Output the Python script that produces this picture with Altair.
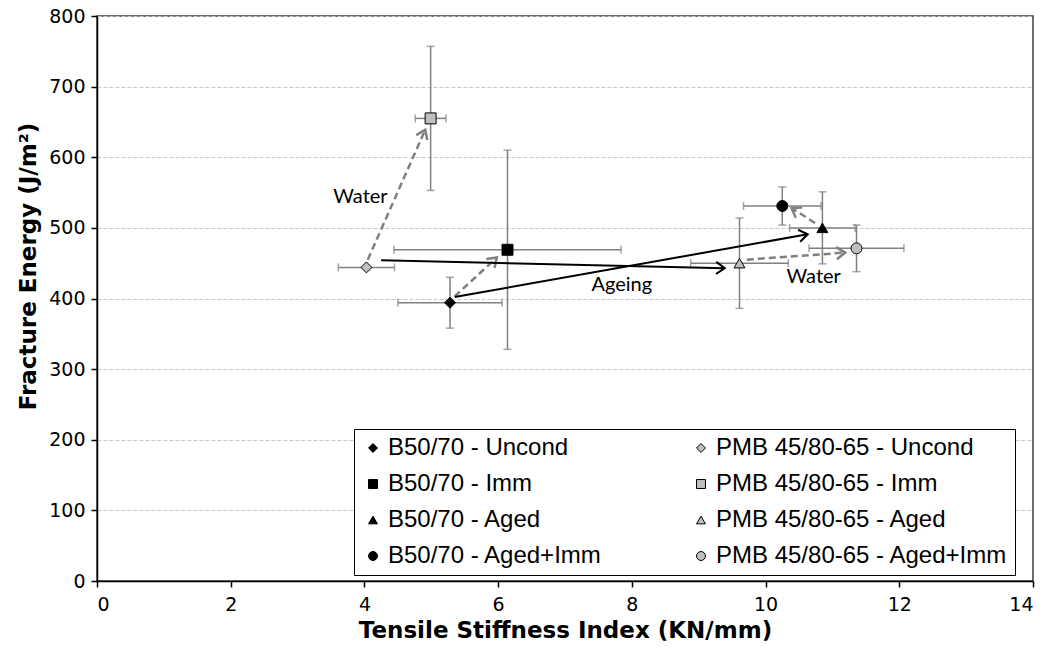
import math
import altair as alt
import pandas as pd

# ---------------- data ----------------
series_order = [
    "B50/70 - Uncond", "B50/70 - Imm", "B50/70 - Aged", "B50/70 - Aged+Imm",
    "PMB 45/80-65 - Uncond", "PMB 45/80-65 - Imm",
    "PMB 45/80-65 - Aged", "PMB 45/80-65 - Aged+Imm",
]
series_shapes = ["diamond", "square", "triangle-up", "circle"] * 2
series_fills = ["#000000"] * 4 + ["#BFBFBF"] * 4

conditions = ["Uncond", "Imm", "Aged", "Aged+Imm"]
b50_x = [5.28, 6.14, 10.85, 10.25]
b50_y = [394, 469, 500, 531]
b50_xerr = [0.78, 1.70, 0.49, 0.58]
b50_yerr = [36, 141, 51, 27]
pmb_x = [4.03, 4.99, 9.61, 11.36]
pmb_y = [444, 655, 450, 471]
pmb_xerr = [0.42, 0.23, 0.73, 0.71]
pmb_yerr = [0, 102, 64, 33]

# arrows: start -> end
arrow_kind = ["water", "water", "water", "water", "ageing", "ageing"]
arrow_x1 = [4.05, 5.35, 10.74, 9.72, 4.25, 5.35]
arrow_y1 = [455, 403, 507, 455, 454, 402]
arrow_x2 = [4.91, 5.98, 10.39, 11.19, 9.39, 10.63]
arrow_y2 = [639, 458, 528, 465, 443, 491]

label_text = ["Water", "Ageing", "Water"]
label_x = [3.94, 7.85, 10.72]
label_y = [544, 419, 430]

x_ticks = [0, 2, 4, 6, 8, 10, 12, 14]
y_ticks = [0, 100, 200, 300, 400, 500, 600, 700, 800]

# ---------------- tables ----------------
W, H = 936, 565
X_DOM, Y_DOM = [0, 14], [0, 800]

rows = []
for i, c in enumerate(conditions):
    rows.append(dict(series=f"B50/70 - {c}", x=b50_x[i], y=b50_y[i],
                     xerr=b50_xerr[i], yerr=b50_yerr[i]))
    rows.append(dict(series=f"PMB 45/80-65 - {c}", x=pmb_x[i], y=pmb_y[i],
                     xerr=pmb_xerr[i], yerr=pmb_yerr[i]))
pts = pd.DataFrame(rows)
pts["xlo"] = pts.x - pts.xerr
pts["xhi"] = pts.x + pts.xerr
pts["ylo"] = pts.y - pts.yerr
pts["yhi"] = pts.y + pts.yerr
ypts = pts[pts.yerr > 0]

arr = pd.DataFrame(dict(kind=arrow_kind, x=arrow_x1, y=arrow_y1,
                        x2=arrow_x2, y2=arrow_y2))
px_x = W / (X_DOM[1] - X_DOM[0])
px_y = H / (Y_DOM[1] - Y_DOM[0])
arr["angle"] = [
    (math.degrees(math.atan2((b - a) * px_x, (d - c) * px_y)) + 360) % 360
    for a, b, c, d in zip(arr.x, arr.x2, arr.y, arr.y2)
]
labels = pd.DataFrame(dict(text=label_text, x=label_x, y=label_y))

xs = alt.Scale(domain=X_DOM, nice=False, zero=False)
ys = alt.Scale(domain=Y_DOM, nice=False, zero=False)

ERR = "#808080"

base = alt.Chart(pts)

xerr_rule = base.mark_rule(color=ERR, strokeWidth=1.5).encode(
    x=alt.X("xlo:Q", scale=xs,
            axis=alt.Axis(values=x_ticks, format="d",
                          title="Tensile Stiffness Index (KN/mm)", grid=False)),
    x2="xhi:Q",
    y=alt.Y("y:Q", scale=ys,
            axis=alt.Axis(values=y_ticks, format="d", titleY=250,
                          title="Fracture Energy (J/m²)", grid=True)),
)
xcap_lo = base.mark_tick(color=ERR, orient="vertical", size=8, thickness=1.5).encode(
    x=alt.X("xlo:Q", scale=xs), y=alt.Y("y:Q", scale=ys))
xcap_hi = base.mark_tick(color=ERR, orient="vertical", size=8, thickness=1.5).encode(
    x=alt.X("xhi:Q", scale=xs), y=alt.Y("y:Q", scale=ys))

ybase = alt.Chart(ypts)
yerr_rule = ybase.mark_rule(color=ERR, strokeWidth=1.5).encode(
    x=alt.X("x:Q", scale=xs), y=alt.Y("ylo:Q", scale=ys), y2="yhi:Q")
ycap_lo = ybase.mark_tick(color=ERR, orient="horizontal", size=8, thickness=1.5).encode(
    x=alt.X("x:Q", scale=xs), y=alt.Y("ylo:Q", scale=ys))
ycap_hi = ybase.mark_tick(color=ERR, orient="horizontal", size=8, thickness=1.5).encode(
    x=alt.X("x:Q", scale=xs), y=alt.Y("yhi:Q", scale=ys))

HEAD = "M -0.7 1 L 0 0 L 0.7 1"

water = alt.Chart(arr).transform_filter(alt.datum.kind == "water")
ageing = alt.Chart(arr).transform_filter(alt.datum.kind == "ageing")

water_line = water.mark_rule(color="#808080", strokeWidth=2.5, strokeDash=[7, 4]).encode(
    x=alt.X("x:Q", scale=xs), y=alt.Y("y:Q", scale=ys), x2="x2:Q", y2="y2:Q")
water_head = water.mark_point(shape=HEAD, filled=False, color="#808080",
                              strokeWidth=2.5, size=300, opacity=1).encode(
    x=alt.X("x2:Q", scale=xs), y=alt.Y("y2:Q", scale=ys),
    angle=alt.Angle("angle:Q", scale=None))
age_line = ageing.mark_rule(color="black", strokeWidth=2).encode(
    x=alt.X("x:Q", scale=xs), y=alt.Y("y:Q", scale=ys), x2="x2:Q", y2="y2:Q")
age_head = ageing.mark_point(shape=HEAD, filled=False, color="black",
                             strokeWidth=2, size=300, opacity=1).encode(
    x=alt.X("x2:Q", scale=xs), y=alt.Y("y2:Q", scale=ys),
    angle=alt.Angle("angle:Q", scale=None))

points = base.mark_point(filled=True, stroke="black", strokeWidth=1, size=120, opacity=1).encode(
    x=alt.X("x:Q", scale=xs),
    y=alt.Y("y:Q", scale=ys),
    shape=alt.Shape("series:N", title=None,
                    scale=alt.Scale(domain=series_order, range=series_shapes),
                    legend=alt.Legend(
                        orient="none", legendX=257, legendY=413, columns=2,
                        columnPadding=86, rowPadding=12, padding=7,
                        strokeColor="black", fillColor="white",
                        labelFont="Liberation Sans", labelFontSize=24,
                        labelColor="black", labelOffset=3, labelLimit=400,
                        symbolSize=80, symbolStrokeColor="black",
                        symbolStrokeWidth=1, symbolOpacity=1)),
    color=alt.Color("series:N", title=None,
                    scale=alt.Scale(domain=series_order, range=series_fills)),
)

text = alt.Chart(labels).mark_text(font="Lato", fontSize=20, color="black").encode(
    x=alt.X("x:Q", scale=xs), y=alt.Y("y:Q", scale=ys), text="text:N")

chart = alt.layer(
    xerr_rule, xcap_lo, xcap_hi, yerr_rule, ycap_lo, ycap_hi,
    water_line, water_head, age_line, age_head, points, text,
).properties(
    width=W, height=H,
    autosize=alt.AutoSizeParams(type="none"),
    padding={"left": 97, "top": 16, "right": 16, "bottom": 72},
    background="white",
).configure_view(
    stroke="#404040", strokeWidth=1.5
).configure_axis(
    labelFont="DejaVu Sans", labelFontSize=19, labelColor="black",
    titleFont="DejaVu Sans", titleFontSize=23, titleFontWeight="bold",
    titleColor="black", domainColor="black", domainWidth=1.5,
    tickColor="black", tickSize=6, tickWidth=1.5,
    gridColor="#C8C8C8", gridDash=[4, 2], gridWidth=1,
).configure_axisX(
    labelPadding=8, titlePadding=5,
).configure_axisY(
    labelPadding=6, titlePadding=8,
)

chart.save("out.html", embed_options={"renderer": "svg", "actions": False})
